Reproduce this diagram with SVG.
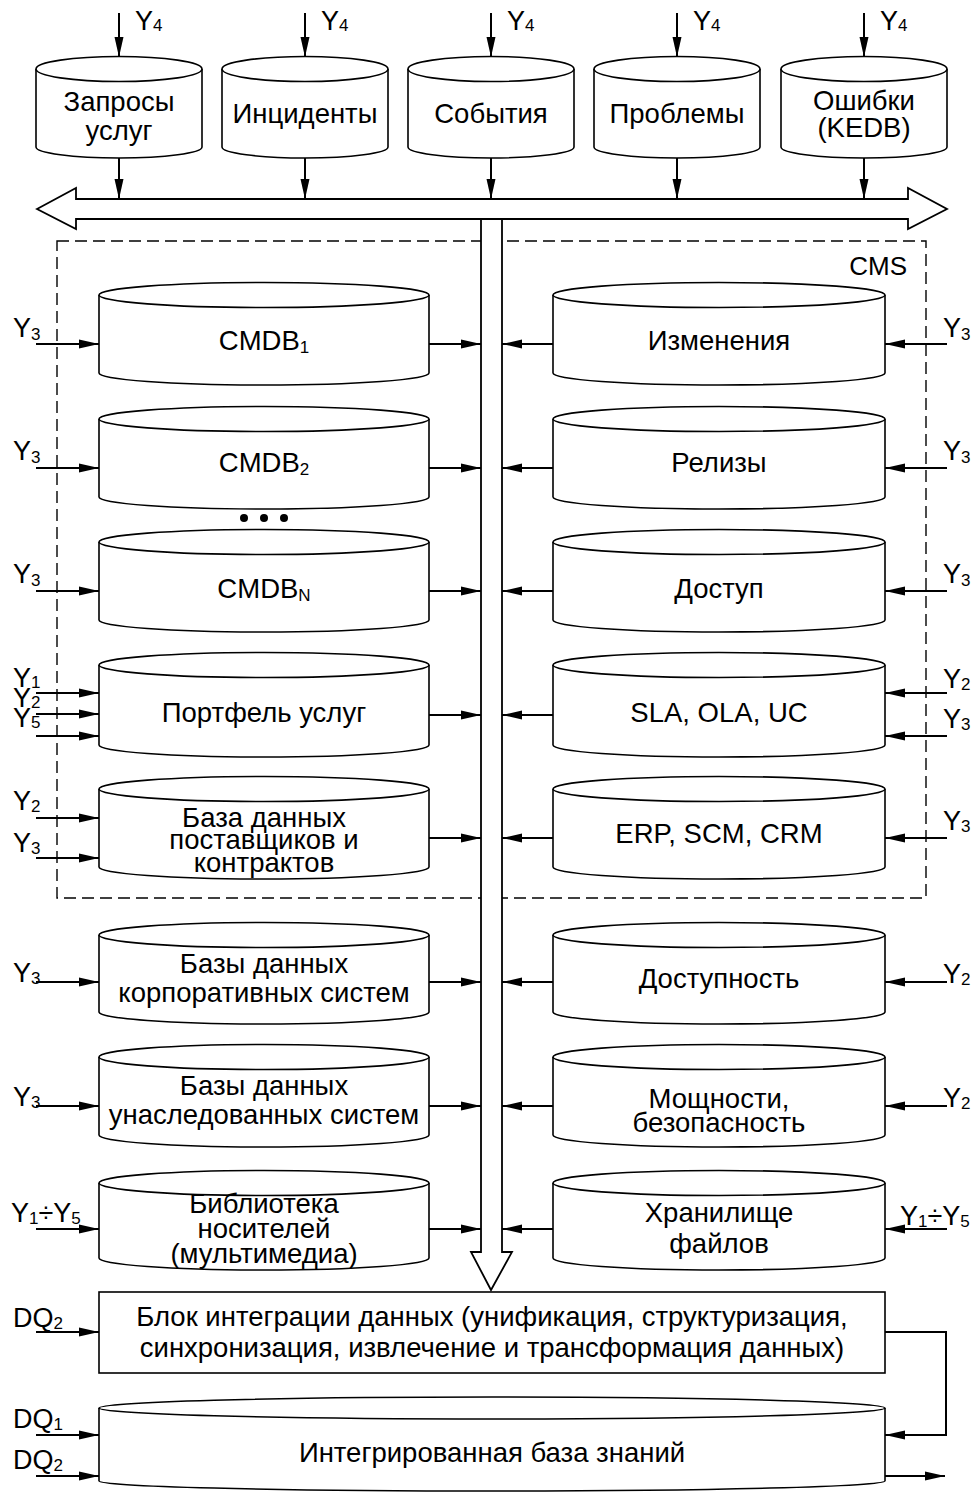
<svg xmlns="http://www.w3.org/2000/svg" width="975" height="1492" viewBox="0 0 975 1492">
  <style>
    .cyl { fill: #fff; stroke: #000; stroke-width: 1.6; }
    .box { fill: #fff; stroke: #000; stroke-width: 1.6; }
    .big { fill: #fff; stroke: #000; stroke-width: 1.8; }
    .cms { fill: none; stroke: #000; stroke-width: 1.4; stroke-dasharray: 12 6; }
    .arr { fill: none; stroke: #000; stroke-width: 2; marker-end: url(#ah); }
    text { font-family: "Liberation Sans", Arial, sans-serif; fill: #000; }
    .t { font-size: 27.5px; text-anchor: middle; }
    .y { font-size: 27px; }
    .s { font-size: 17px; }
  </style>
  <defs>
    <marker id="ah" markerUnits="userSpaceOnUse" viewBox="0 0 20 10" refX="20" refY="5" markerWidth="20" markerHeight="10" orient="auto">
      <path d="M0,0.5 L20,5 L0,9.5 z" fill="#000"/>
    </marker>
  </defs>

  <!-- CMS boundary -->
  <g id="cms">
    <rect class="cms" x="57" y="241" width="869" height="657"/>
    <text x="907" y="275" font-size="26" text-anchor="end">CMS</text>
  </g>

  <!-- Data bus: double arrow and downward trunk -->
  <g id="bus">
    <polygon class="big" points="37,209 76,188 76,199 908,199 908,188 947,209 908,229 908,219 76,219 76,229"/>
    <polygon class="big" points="481,219 481,1252 471,1252 491,1290 512,1252 502,1252 502,219"/>
  </g>

  <!-- Top row of process databases -->
  <g id="n-requests">
    <path class="cyl" d="M36,69 V147 A83,11 0 0 0 202,147 V69"/>
    <ellipse class="cyl" cx="119" cy="69" rx="83" ry="12.5"/>
    <text class="t" x="119" y="111">Запросы</text>
    <text class="t" x="119" y="140">услуг</text>
  </g>
  <g id="n-incidents">
    <path class="cyl" d="M222,69 V147 A83,11 0 0 0 388,147 V69"/>
    <ellipse class="cyl" cx="305" cy="69" rx="83" ry="12.5"/>
    <text class="t" x="305" y="123">Инциденты</text>
  </g>
  <g id="n-events">
    <path class="cyl" d="M408,69 V147 A83,11 0 0 0 574,147 V69"/>
    <ellipse class="cyl" cx="491" cy="69" rx="83" ry="12.5"/>
    <text class="t" x="491" y="123">События</text>
  </g>
  <g id="n-problems">
    <path class="cyl" d="M594,69 V147 A83,11 0 0 0 760,147 V69"/>
    <ellipse class="cyl" cx="677" cy="69" rx="83" ry="12.5"/>
    <text class="t" x="677" y="123">Проблемы</text>
  </g>
  <g id="n-errors">
    <path class="cyl" d="M781,69 V147 A83,11 0 0 0 947,147 V69"/>
    <ellipse class="cyl" cx="864" cy="69" rx="83" ry="12.5"/>
    <text class="t" x="864" y="110">Ошибки</text>
    <text class="t" x="864" y="137">(KEDB)</text>
  </g>

  <!-- Left column -->
  <g id="n-cmdb1">
    <path class="cyl" d="M99,295 V373 A165,12 0 0 0 429,373 V295"/>
    <ellipse class="cyl" cx="264" cy="295" rx="165" ry="12.5"/>
    <text class="t" x="264" y="350">CMDB<tspan class="s" dy="3">1</tspan></text>
  </g>
  <g id="n-cmdb2">
    <path class="cyl" d="M99,419 V497 A165,12 0 0 0 429,497 V419"/>
    <ellipse class="cyl" cx="264" cy="419" rx="165" ry="12.5"/>
    <text class="t" x="264" y="472">CMDB<tspan class="s" dy="3">2</tspan></text>
  </g>
  <g id="n-dots">
    <circle cx="244" cy="518" r="4"/>
    <circle cx="264" cy="518" r="4"/>
    <circle cx="284" cy="518" r="4"/>
  </g>
  <g id="n-cmdbn">
    <path class="cyl" d="M99,542 V620 A165,12 0 0 0 429,620 V542"/>
    <ellipse class="cyl" cx="264" cy="542" rx="165" ry="12.5"/>
    <text class="t" x="264" y="598">CMDB<tspan class="s" dy="3">N</tspan></text>
  </g>
  <g id="n-portfolio">
    <path class="cyl" d="M99,665 V745 A165,12 0 0 0 429,745 V665"/>
    <ellipse class="cyl" cx="264" cy="665" rx="165" ry="12.5"/>
    <text class="t" x="264" y="722">Портфель услуг</text>
  </g>
  <g id="n-suppliers">
    <path class="cyl" d="M99,789 V867 A165,12 0 0 0 429,867 V789"/>
    <ellipse class="cyl" cx="264" cy="789" rx="165" ry="12.5"/>
    <text class="t" x="264" y="827">База данных</text>
    <text class="t" x="264" y="849">поставщиков и</text>
    <text class="t" x="264" y="872">контрактов</text>
  </g>
  <g id="n-corporate">
    <path class="cyl" d="M99,935 V1012 A165,12 0 0 0 429,1012 V935"/>
    <ellipse class="cyl" cx="264" cy="935" rx="165" ry="12.5"/>
    <text class="t" x="264" y="973">Базы данных</text>
    <text class="t" x="264" y="1002">корпоративных систем</text>
  </g>
  <g id="n-legacy">
    <path class="cyl" d="M99,1057 V1135 A165,12 0 0 0 429,1135 V1057"/>
    <ellipse class="cyl" cx="264" cy="1057" rx="165" ry="12.5"/>
    <text class="t" x="264" y="1095">Базы данных</text>
    <text class="t" x="264" y="1124">унаследованных систем</text>
  </g>
  <g id="n-media">
    <path class="cyl" d="M99,1183 V1258 A165,12 0 0 0 429,1258 V1183"/>
    <ellipse class="cyl" cx="264" cy="1183" rx="165" ry="12.5"/>
    <text class="t" x="264" y="1213">Библиотека</text>
    <text class="t" x="264" y="1238">носителей</text>
    <text class="t" x="264" y="1263">(мультимедиа)</text>
  </g>

  <!-- Right column -->
  <g id="n-changes">
    <path class="cyl" d="M553,295 V373 A166,12 0 0 0 885,373 V295"/>
    <ellipse class="cyl" cx="719" cy="295" rx="166" ry="12.5"/>
    <text class="t" x="719" y="350">Изменения</text>
  </g>
  <g id="n-releases">
    <path class="cyl" d="M553,419 V497 A166,12 0 0 0 885,497 V419"/>
    <ellipse class="cyl" cx="719" cy="419" rx="166" ry="12.5"/>
    <text class="t" x="719" y="472">Релизы</text>
  </g>
  <g id="n-access">
    <path class="cyl" d="M553,542 V620 A166,12 0 0 0 885,620 V542"/>
    <ellipse class="cyl" cx="719" cy="542" rx="166" ry="12.5"/>
    <text class="t" x="719" y="598">Доступ</text>
  </g>
  <g id="n-sla">
    <path class="cyl" d="M553,665 V745 A166,12 0 0 0 885,745 V665"/>
    <ellipse class="cyl" cx="719" cy="665" rx="166" ry="12.5"/>
    <text class="t" x="719" y="722">SLA, OLA, UC</text>
  </g>
  <g id="n-erp">
    <path class="cyl" d="M553,789 V867 A166,12 0 0 0 885,867 V789"/>
    <ellipse class="cyl" cx="719" cy="789" rx="166" ry="12.5"/>
    <text class="t" x="719" y="843">ERP, SCM, CRM</text>
  </g>
  <g id="n-availability">
    <path class="cyl" d="M553,935 V1012 A166,12 0 0 0 885,1012 V935"/>
    <ellipse class="cyl" cx="719" cy="935" rx="166" ry="12.5"/>
    <text class="t" x="719" y="988">Доступность</text>
  </g>
  <g id="n-capacity">
    <path class="cyl" d="M553,1057 V1135 A166,12 0 0 0 885,1135 V1057"/>
    <ellipse class="cyl" cx="719" cy="1057" rx="166" ry="12.5"/>
    <text class="t" x="719" y="1108">Мощности,</text>
    <text class="t" x="719" y="1132">безопасность</text>
  </g>
  <g id="n-files">
    <path class="cyl" d="M553,1183 V1258 A166,12 0 0 0 885,1258 V1183"/>
    <ellipse class="cyl" cx="719" cy="1183" rx="166" ry="12.5"/>
    <text class="t" x="719" y="1222">Хранилище</text>
    <text class="t" x="719" y="1253">файлов</text>
  </g>

  <!-- Integration block -->
  <g id="n-integration">
    <rect class="box" x="99" y="1292" width="786" height="81"/>
    <text class="t" x="492" y="1326">Блок интеграции данных (унификация, структуризация,</text>
    <text class="t" x="492" y="1357">синхронизация, извлечение и трансформация данных)</text>
  </g>

  <!-- Integrated knowledge base -->
  <g id="n-kb">
    <path class="cyl" d="M99,1408 V1481 A393,10 0 0 0 885,1481 V1408"/>
    <ellipse class="cyl" cx="492" cy="1408" rx="393" ry="11"/>
    <text class="t" x="492" y="1462">Интегрированная база знаний</text>
  </g>

  <!-- Connectors -->
  <g id="connectors">
    <!-- inputs and outputs of the top row -->
    <line class="arr" x1="119" y1="13" x2="119" y2="57"/>
    <line class="arr" x1="305" y1="13" x2="305" y2="57"/>
    <line class="arr" x1="491" y1="13" x2="491" y2="57"/>
    <line class="arr" x1="677" y1="13" x2="677" y2="57"/>
    <line class="arr" x1="864" y1="13" x2="864" y2="57"/>
    <line class="arr" x1="119" y1="158" x2="119" y2="199"/>
    <line class="arr" x1="305" y1="158" x2="305" y2="199"/>
    <line class="arr" x1="491" y1="158" x2="491" y2="199"/>
    <line class="arr" x1="677" y1="158" x2="677" y2="199"/>
    <line class="arr" x1="864" y1="158" x2="864" y2="199"/>

    <!-- left column: outputs to trunk -->
    <line class="arr" x1="429" y1="344" x2="481" y2="344"/>
    <line class="arr" x1="429" y1="468" x2="481" y2="468"/>
    <line class="arr" x1="429" y1="591" x2="481" y2="591"/>
    <line class="arr" x1="429" y1="715" x2="481" y2="715"/>
    <line class="arr" x1="429" y1="838" x2="481" y2="838"/>
    <line class="arr" x1="429" y1="982" x2="481" y2="982"/>
    <line class="arr" x1="429" y1="1106" x2="481" y2="1106"/>
    <line class="arr" x1="429" y1="1229" x2="481" y2="1229"/>

    <!-- right column: outputs to trunk -->
    <line class="arr" x1="553" y1="344" x2="502" y2="344"/>
    <line class="arr" x1="553" y1="468" x2="502" y2="468"/>
    <line class="arr" x1="553" y1="591" x2="502" y2="591"/>
    <line class="arr" x1="553" y1="715" x2="502" y2="715"/>
    <line class="arr" x1="553" y1="838" x2="502" y2="838"/>
    <line class="arr" x1="553" y1="982" x2="502" y2="982"/>
    <line class="arr" x1="553" y1="1106" x2="502" y2="1106"/>
    <line class="arr" x1="553" y1="1229" x2="502" y2="1229"/>

    <!-- left column: inputs -->
    <line class="arr" x1="36" y1="344" x2="99" y2="344"/>
    <line class="arr" x1="36" y1="468" x2="99" y2="468"/>
    <line class="arr" x1="36" y1="591" x2="99" y2="591"/>
    <line class="arr" x1="36" y1="693" x2="99" y2="693"/>
    <line class="arr" x1="36" y1="714" x2="99" y2="714"/>
    <line class="arr" x1="36" y1="736" x2="99" y2="736"/>
    <line class="arr" x1="36" y1="818" x2="99" y2="818"/>
    <line class="arr" x1="36" y1="858" x2="99" y2="858"/>
    <line class="arr" x1="36" y1="982" x2="99" y2="982"/>
    <line class="arr" x1="36" y1="1106" x2="99" y2="1106"/>
    <line class="arr" x1="36" y1="1229" x2="99" y2="1229"/>

    <!-- right column: inputs -->
    <line class="arr" x1="947" y1="344" x2="885" y2="344"/>
    <line class="arr" x1="947" y1="468" x2="885" y2="468"/>
    <line class="arr" x1="947" y1="591" x2="885" y2="591"/>
    <line class="arr" x1="947" y1="693" x2="885" y2="693"/>
    <line class="arr" x1="947" y1="736" x2="885" y2="736"/>
    <line class="arr" x1="947" y1="838" x2="885" y2="838"/>
    <line class="arr" x1="947" y1="982" x2="885" y2="982"/>
    <line class="arr" x1="947" y1="1106" x2="885" y2="1106"/>
    <line class="arr" x1="947" y1="1229" x2="885" y2="1229"/>

    <!-- integration block and knowledge base -->
    <line class="arr" x1="36" y1="1332" x2="99" y2="1332"/>
    <line class="arr" x1="36" y1="1435" x2="99" y2="1435"/>
    <line class="arr" x1="36" y1="1476" x2="99" y2="1476"/>
    <path class="arr" d="M885,1332 H946 V1435 H885"/>
    <line class="arr" x1="885" y1="1476" x2="945" y2="1476"/>
  </g>

  <!-- Signal labels -->
  <g id="labels">
    <text class="y" x="135" y="30">Y<tspan class="s" dy="1">4</tspan></text>
    <text class="y" x="321" y="30">Y<tspan class="s" dy="1">4</tspan></text>
    <text class="y" x="507" y="30">Y<tspan class="s" dy="1">4</tspan></text>
    <text class="y" x="693" y="30">Y<tspan class="s" dy="1">4</tspan></text>
    <text class="y" x="880" y="30">Y<tspan class="s" dy="1">4</tspan></text>

    <text class="y" x="13" y="337">Y<tspan class="s" dy="3">3</tspan></text>
    <text class="y" x="13" y="460">Y<tspan class="s" dy="3">3</tspan></text>
    <text class="y" x="13" y="583">Y<tspan class="s" dy="3">3</tspan></text>
    <text class="y" x="13" y="687">Y<tspan class="s" dy="1">1</tspan></text>
    <text class="y" x="13" y="707">Y<tspan class="s" dy="1">2</tspan></text>
    <text class="y" x="13" y="727">Y<tspan class="s" dy="1">5</tspan></text>
    <text class="y" x="13" y="810">Y<tspan class="s" dy="2">2</tspan></text>
    <text class="y" x="13" y="852">Y<tspan class="s" dy="2">3</tspan></text>
    <text class="y" x="13" y="982">Y<tspan class="s" dy="2">3</tspan></text>
    <text class="y" x="13" y="1106">Y<tspan class="s" dy="2">3</tspan></text>
    <text class="y" x="11" y="1222">Y<tspan class="s" dy="2">1</tspan><tspan dy="-2">÷Y</tspan><tspan class="s" dy="2">5</tspan></text>

    <text class="y" x="943" y="337">Y<tspan class="s" dy="3">3</tspan></text>
    <text class="y" x="943" y="460">Y<tspan class="s" dy="3">3</tspan></text>
    <text class="y" x="943" y="583">Y<tspan class="s" dy="3">3</tspan></text>
    <text class="y" x="943" y="688">Y<tspan class="s" dy="2">2</tspan></text>
    <text class="y" x="943" y="728">Y<tspan class="s" dy="2">3</tspan></text>
    <text class="y" x="943" y="830">Y<tspan class="s" dy="2">3</tspan></text>
    <text class="y" x="943" y="983">Y<tspan class="s" dy="2">2</tspan></text>
    <text class="y" x="943" y="1107">Y<tspan class="s" dy="2">2</tspan></text>
    <text class="y" x="900" y="1225">Y<tspan class="s" dy="2">1</tspan><tspan dy="-2">÷Y</tspan><tspan class="s" dy="2">5</tspan></text>

    <text class="y" x="13" y="1327">DQ<tspan class="s" dy="2">2</tspan></text>
    <text class="y" x="13" y="1428">DQ<tspan class="s" dy="2">1</tspan></text>
    <text class="y" x="13" y="1469">DQ<tspan class="s" dy="2">2</tspan></text>
  </g>
</svg>
